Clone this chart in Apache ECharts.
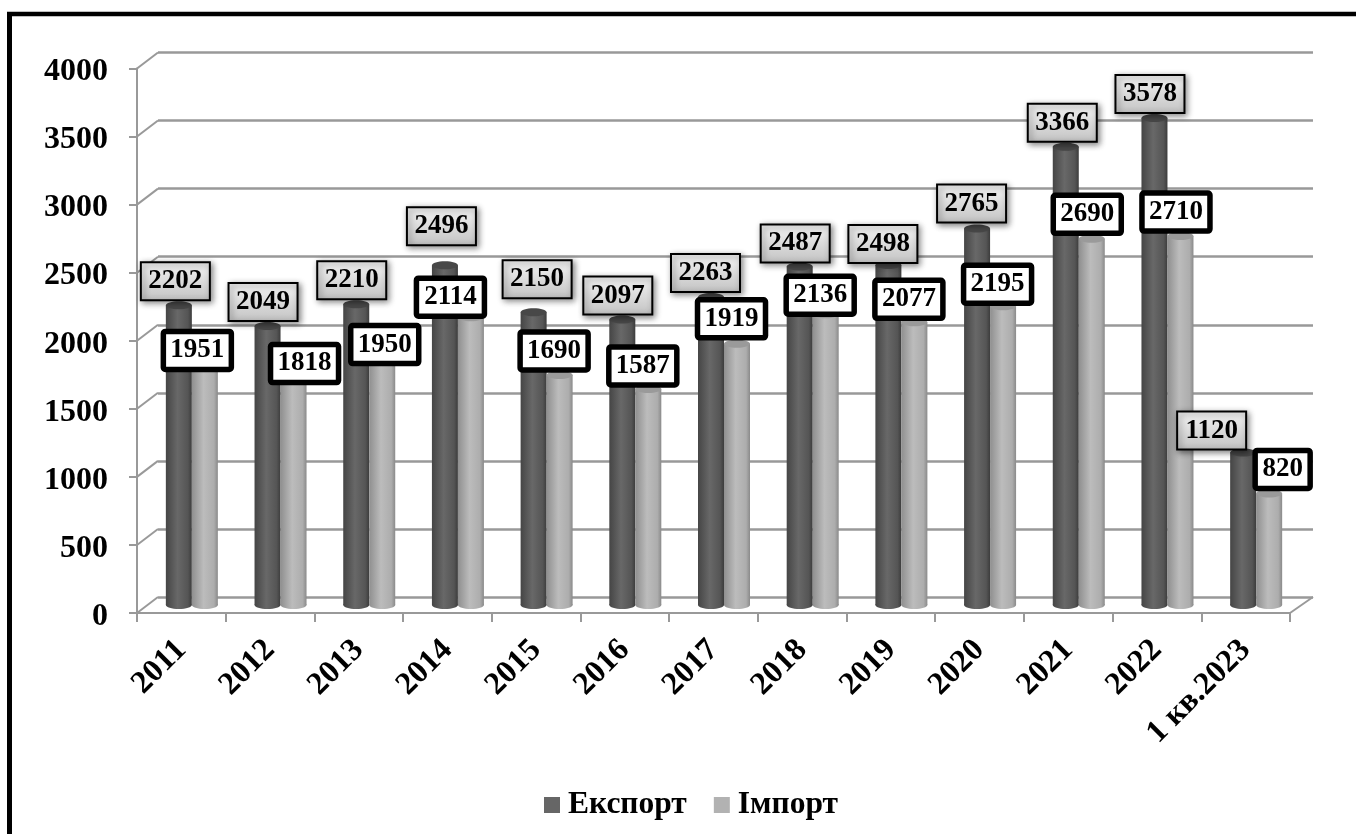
<!DOCTYPE html>
<html><head><meta charset="utf-8">
<style>html,body{margin:0;padding:0;background:#fff}#c{width:1356px;height:834px}</style>
<script src="https://cdn.jsdelivr.net/npm/echarts@6/dist/echarts.min.js"></script>
</head><body><div id="c"></div>
<script>
const categories=['2011','2012','2013','2014','2015','2016','2017','2018','2019','2020','2021','2022','1 кв.2023'];
const exportValues=[2202,2049,2210,2496,2150,2097,2263,2487,2498,2765,3366,3578,1120];
const importValues=[1951,1818,1950,2114,1690,1587,1919,2136,2077,2195,2690,2710,820];
const yTicks=[0,500,1000,1500,2000,2500,3000,3500,4000];
// hand-placed label offsets from the bar value point
const exportLabelDx=[-6,-7,-7,-6,1,-7,-8,-7,-8,-8,-6,-7,-34];
const exportLabelDy=[-32,-32,-32,-47,-41,-32,-32,-31,-29,-33,-32,-32,-30];
const importLabelDx=[16,34.5,26,3,18,18,18,18,18,18,19,19,37];
const importLabelDy=[3,-2,-3,-28,-32,-31,-33,-27,-31,-30,-32.5,-32,-32];

const font='"Liberation Serif","Times New Roman",serif';
const DX=21, DY=-16;           // back-wall offset
const BX=10.5, BY=-8;          // bar depth offset
const RX=13, RY=4;
const G=echarts.graphic.LinearGradient;
const darkGrad=()=>new G(0,0,1,0,[{offset:0,color:'#454545'},{offset:.45,color:'#686868'},{offset:.85,color:'#555'},{offset:1,color:'#3c3c3c'}]);
const lightGrad=()=>new G(0,0,1,0,[{offset:0,color:'#8f8f8f'},{offset:.45,color:'#bcbcbc'},{offset:.85,color:'#adadad'},{offset:1,color:'#8a8a8a'}]);

function cyl(shift,grad,topColor){
  return function(params,api){
    const p=api.coord([api.value(0),api.value(1)]);
    const b=api.coord([api.value(0),0]);
    const cx=p[0]+BX+shift, ty=p[1]+BY, by=b[1]+BY;
    return {type:'group',children:[
      {type:'ellipse',shape:{cx:cx,cy:by,rx:RX,ry:RY},style:{fill:grad()}},
      {type:'rect',shape:{x:cx-RX,y:ty,width:RX*2,height:by-ty},style:{fill:grad()}},
      {type:'ellipse',shape:{cx:cx,cy:ty,rx:RX,ry:RY},style:{fill:topColor}}
    ]};
  };
}
function labelSeries(values,dxs,dys,kind){
  return {type:'custom',coordinateSystem:'cartesian2d',xAxisIndex:0,yAxisIndex:0,z:10,silent:true,
    data:values.map((v,i)=>[i,v,dxs[i],dys[i]]),
    renderItem:function(params,api){
      const p=api.coord([api.value(0),api.value(1)]);
      const cx=p[0]+api.value(2), cy=p[1]+api.value(3);
      const v=api.value(1);
      const isImp=kind==='imp';
      const w=isImp?(v<1000?55:68):69, h=38;
      return {type:'group',children:[
        {type:'rect',shape:{x:cx-w/2,y:cy-h/2,width:w,height:h,r:isImp?2:0},
          style:isImp?{fill:'#fff',stroke:'#000',lineWidth:5.5}
            :{fill:new G(0,0,0,1,[{offset:0,color:'#f5f5f5'},{offset:1,color:'#c2c2c2'}]),stroke:'#000',lineWidth:2,
              shadowBlur:6,shadowColor:'rgba(0,0,0,.45)',shadowOffsetX:2,shadowOffsetY:2}},
        {type:'text',style:{x:cx,y:cy,text:String(v),align:'center',verticalAlign:'middle',
          fill:'#000',font:'bold 27px '+font}}
      ]};
    }};
}
const chart=echarts.init(document.getElementById('c'),null,{renderer:'canvas'});
const L=137,T=68.5,W=1153,H=544.5,BACK_EXTRA=2;
chart.setOption({
  animation:false,backgroundColor:'#fff',
  graphic:[
    {type:'line',silent:true,z:100,shape:{x1:7,y1:14,x2:1356,y2:14},style:{stroke:'#000',lineWidth:4.5}},
    {type:'line',silent:true,z:100,shape:{x1:9.5,y1:12,x2:9.5,y2:834},style:{stroke:'#000',lineWidth:5}}
  ],
  legend:{left:539,top:784,itemWidth:16,itemHeight:16,itemGap:27,icon:'rect',selectedMode:false,
    data:['Експорт','Імпорт'],
    textStyle:{fontFamily:font,fontWeight:'bold',fontSize:31.5,color:'#000',padding:[0,0,0,3]}},
  grid:[
    {left:L,top:T,width:W,height:H},
    {left:L+DX,top:T+DY,width:W+BACK_EXTRA,height:H}
  ],
  xAxis:[
    {type:'category',gridIndex:0,data:categories,boundaryGap:true,
     axisLine:{show:true,lineStyle:{color:'#999',width:2}},
     axisTick:{show:true,length:9,alignWithLabel:false,lineStyle:{color:'#999',width:2}},
     axisLabel:{rotate:45,interval:0,margin:32,color:'#000',fontFamily:font,fontWeight:'bold',fontSize:32}},
    {type:'category',gridIndex:1,data:categories,show:false}
  ],
  yAxis:[
    {type:'value',gridIndex:0,min:0,max:4000,interval:500,
     axisLine:{show:true,onZero:false,lineStyle:{color:'#999',width:2}},
     axisTick:{show:true,length:8,lineStyle:{color:'#999',width:2}},
     splitLine:{show:false},
     axisLabel:{margin:29,color:'#000',fontFamily:font,fontWeight:'bold',fontSize:32,
       formatter:function(v){return '{a|'+v+'}';},
       rich:{a:{padding:[7,0,0,0],fontFamily:font,fontWeight:'bold',fontSize:32,color:'#000'}}}},
    {type:'value',gridIndex:1,min:0,max:4000,interval:500,
     axisLine:{show:false},axisTick:{show:false},axisLabel:{show:false},
     splitLine:{show:true,lineStyle:{color:'#999',width:2.5}}}
  ],
  series:[
    {type:'custom',coordinateSystem:'cartesian2d',xAxisIndex:0,yAxisIndex:0,z:1,silent:true,
     data:yTicks.map(v=>[0,v]),legendHoverLink:false,
     renderItem:function(params,api){
       const v=api.value(1);
       const p=api.coord([0,v]);
       const x0=L;
       const kids=[{type:'line',shape:{x1:x0,y1:p[1],x2:x0+DX,y2:p[1]+DY},style:{stroke:'#999',lineWidth:2}}];
       if(v===0)kids.push({type:'line',shape:{x1:x0+W,y1:p[1],x2:x0+W+DX+BACK_EXTRA,y2:p[1]+DY},style:{stroke:'#999',lineWidth:2}});
       return {type:'group',children:kids};
     }},
    {name:'Експорт',type:'custom',coordinateSystem:'cartesian2d',xAxisIndex:0,yAxisIndex:0,z:3,silent:true,
     itemStyle:{color:'#666666'},data:exportValues.map((v,i)=>[i,v]),
     renderItem:cyl(-13,darkGrad,'#484848')},
    {name:'Імпорт',type:'custom',coordinateSystem:'cartesian2d',xAxisIndex:0,yAxisIndex:0,z:4,silent:true,
     itemStyle:{color:'#b2b2b2'},data:importValues.map((v,i)=>[i,v]),
     renderItem:cyl(13,lightGrad,'#9a9a9a')},
    labelSeries(exportValues,exportLabelDx,exportLabelDy,'exp'),
    labelSeries(importValues,importLabelDx,importLabelDy,'imp')
  ]
});
</script></body></html>
